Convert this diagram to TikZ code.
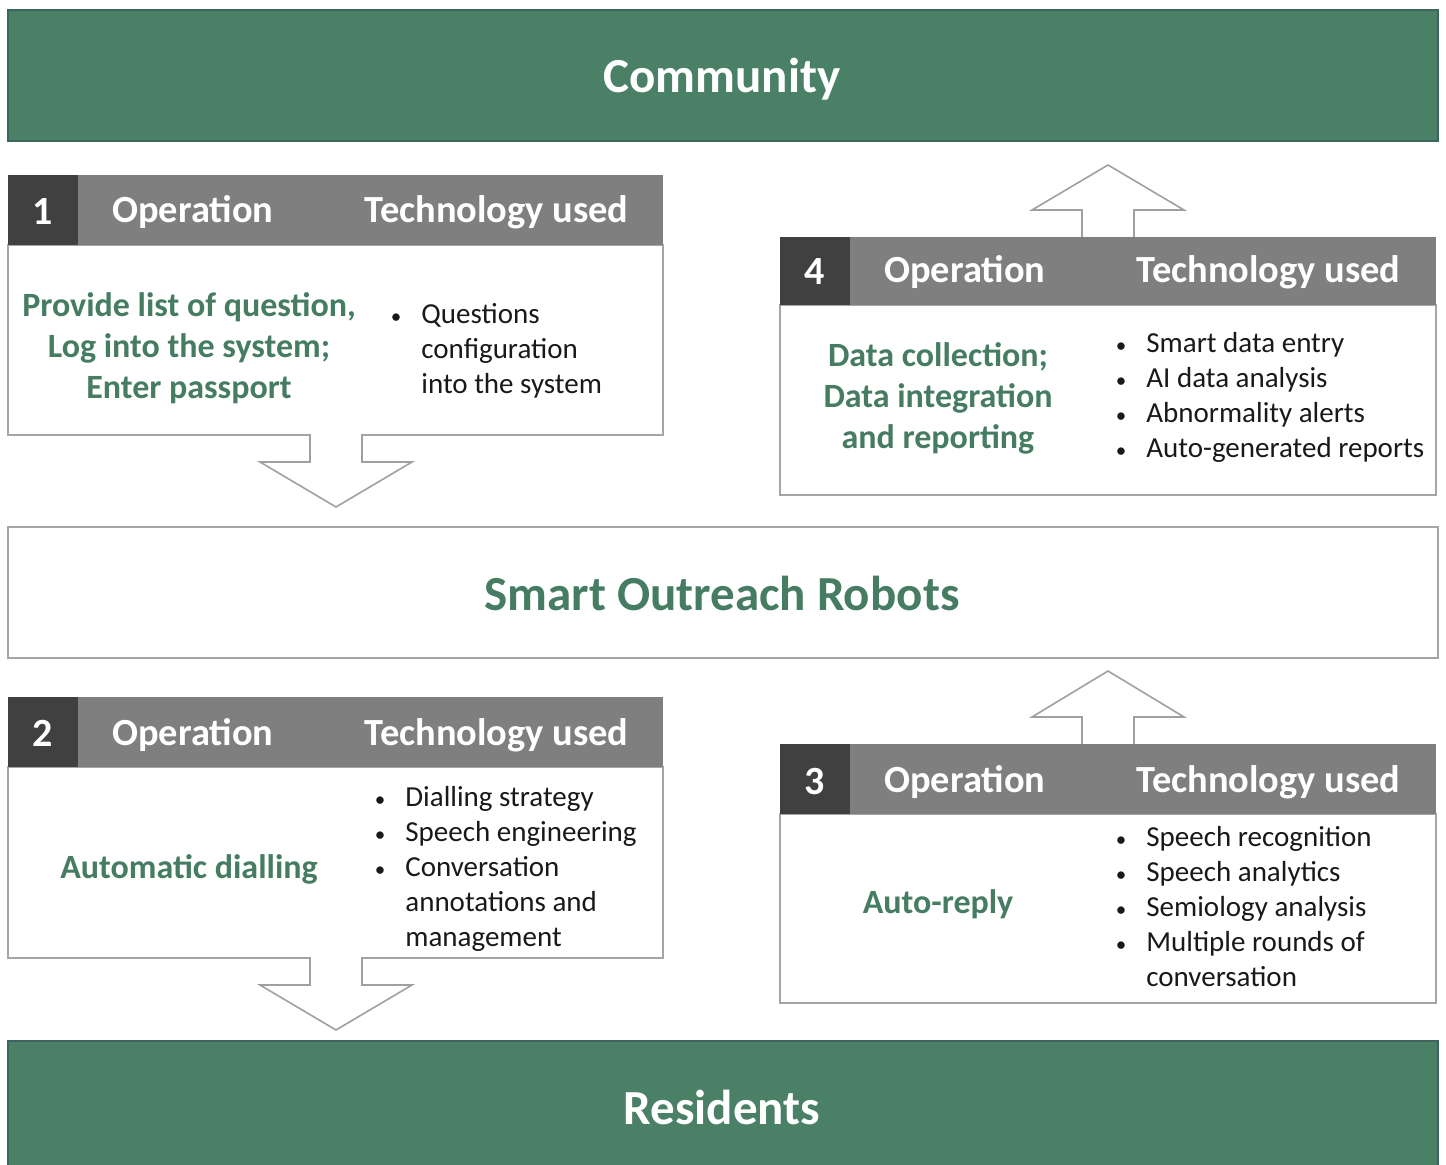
\documentclass[tikz,border=0pt]{standalone}
\usepackage{fontspec}
\setmainfont{Carlito}
\definecolor{barg}{RGB}{74,128,101}
\definecolor{bardark}{RGB}{62,100,96}
\definecolor{greentxt}{RGB}{70,124,98}
\definecolor{hdrgray}{RGB}{127,127,127}
\definecolor{numgray}{RGB}{64,64,64}
\definecolor{boxgray}{RGB}{165,165,165}
\definecolor{arrgray}{RGB}{160,160,160}
\newcommand\bul{\llap{{\fontsize{10.5}{10.5}\selectfont\textbullet}\hspace{10pt}}}
\begin{document}
\begin{tikzpicture}[x=0.5pt,y=-0.5pt,
  bar/.style={fill=barg,draw=bardark,line width=0.8pt},
  bodybox/.style={fill=white,draw=boxgray,line width=0.7pt},
  hdr/.style={fill=hdrgray},
  numcell/.style={fill=numgray},
  blockarrow/.style={fill=white,draw=arrgray,line width=0.8pt,line join=miter},
  bigtitle/.style={font=\fontsize{24.5}{29}\selectfont\bfseries,inner sep=0pt,anchor=base},
  hdrtext/.style={font=\fontsize{19.2}{23}\selectfont\bfseries,text=white,inner sep=0pt,anchor=base west},
  numtext/.style={font=\fontsize{20}{24}\selectfont\bfseries,text=white,inner sep=0pt,anchor=base},
  optext/.style={font=\fontsize{17}{20.5}\selectfont\bfseries,text=greentxt,inner sep=0pt,anchor=base},
  listtext/.style={font=\fontsize{14.5}{17.5}\selectfont,text=black!90,inner sep=0pt,anchor=base west},
]
\useasboundingbox (0,0) rectangle (1446,1165);
% --- bars
\path[bar] (8,10) rectangle (1438,141);
\node[bigtitle,text=white] (community) at (722,93) {Community};
\path[bodybox] (8,527) rectangle (1438,658);
\node[bigtitle,text=greentxt] (robots) at (722,611) {Smart Outreach Robots};
\path[bar] (8,1041) rectangle (1438,1170);
\node[bigtitle,text=white] (residents) at (722,1124) {Residents};

% --- box 1
\path[bodybox] (8,245) rectangle (663,435);
\path[hdr] (8,175) rectangle (663,245);
\path[numcell] (8,175) rectangle (78,245);
\node[numtext] (n1) at (43,225) {1};
\node[hdrtext] (op1) at (112,223) {Operation};
\node[hdrtext] (te1) at (364,223) {Technology used};
\node[optext] (o1a) at (189,317) {Provide list of question,};
\node[optext] (o1b) at (189,358) {Log into the system;};
\node[optext] (o1c) at (189,399) {Enter passport};
\node[listtext] (l1a) at (421,324) {\bul Questions};
\node[listtext] (l1b) at (421,359) {configuration};
\node[listtext] (l1c) at (421,394) {into the system};
\path[blockarrow] (310,434) -- (310,462) -- (260,462) -- (336,507) -- (412,462) -- (362,462) -- (362,434);

% --- box 2
\path[bodybox] (8,767) rectangle (663,958);
\path[hdr] (8,697) rectangle (663,767);
\path[numcell] (8,697) rectangle (78,767);
\node[numtext] (n2) at (43,747) {2};
\node[hdrtext] (op2) at (112,745) {Operation};
\node[hdrtext] (te2) at (364,745) {Technology used};
\node[optext] (o2a) at (189,878) {Automatic dialling};
\node[listtext] (l2a) at (405,806) {\bul Dialling strategy};
\node[listtext] (l2b) at (405,841) {\bul Speech engineering};
\node[listtext] (l2c) at (405,876) {\bul Conversation};
\node[listtext] (l2d) at (405,911) {annotations and};
\node[listtext] (l2e) at (405,946) {management};
\path[blockarrow] (310,957) -- (310,985) -- (260,985) -- (336,1030) -- (412,985) -- (362,985) -- (362,957);

% --- box 4
\path[blockarrow] (1082,238) -- (1082,210) -- (1032,210) -- (1108,165) -- (1184,210) -- (1134,210) -- (1134,238);
\path[bodybox] (780,305) rectangle (1436,495);
\path[hdr] (780,237) rectangle (1436,305);
\path[numcell] (780,237) rectangle (850,305);
\node[numtext] (n4) at (815,285) {4};
\node[hdrtext] (op4) at (884,283) {Operation};
\node[hdrtext] (te4) at (1136,283) {Technology used};
\node[optext] (o4a) at (938,367) {Data collection;};
\node[optext] (o4b) at (938,408) {Data integration};
\node[optext] (o4c) at (938,449) {and reporting};
\node[listtext] (l4a) at (1146,353) {\bul Smart data entry};
\node[listtext] (l4b) at (1146,388) {\bul AI data analysis};
\node[listtext] (l4c) at (1146,423) {\bul Abnormality alerts};
\node[listtext] (l4d) at (1146,458) {\bul Auto-generated reports};

% --- box 3
\path[blockarrow] (1082,745) -- (1082,717) -- (1032,717) -- (1108,671) -- (1184,717) -- (1134,717) -- (1134,745);
\path[bodybox] (780,814) rectangle (1436,1003);
\path[hdr] (780,744) rectangle (1436,814);
\path[numcell] (780,744) rectangle (850,814);
\node[numtext] (n3) at (815,794) {3};
\node[hdrtext] (op3) at (884,792) {Operation};
\node[hdrtext] (te3) at (1136,792) {Technology used};
\node[optext] (o3a) at (938,913) {Auto-reply};
\node[listtext] (l3a) at (1146,846) {\bul Speech recognition};
\node[listtext] (l3b) at (1146,881) {\bul Speech analytics};
\node[listtext] (l3c) at (1146,916) {\bul Semiology analysis};
\node[listtext] (l3d) at (1146,951) {\bul Multiple rounds of};
\node[listtext] (l3e) at (1146,986) {conversation};
\end{tikzpicture}
\end{document}
